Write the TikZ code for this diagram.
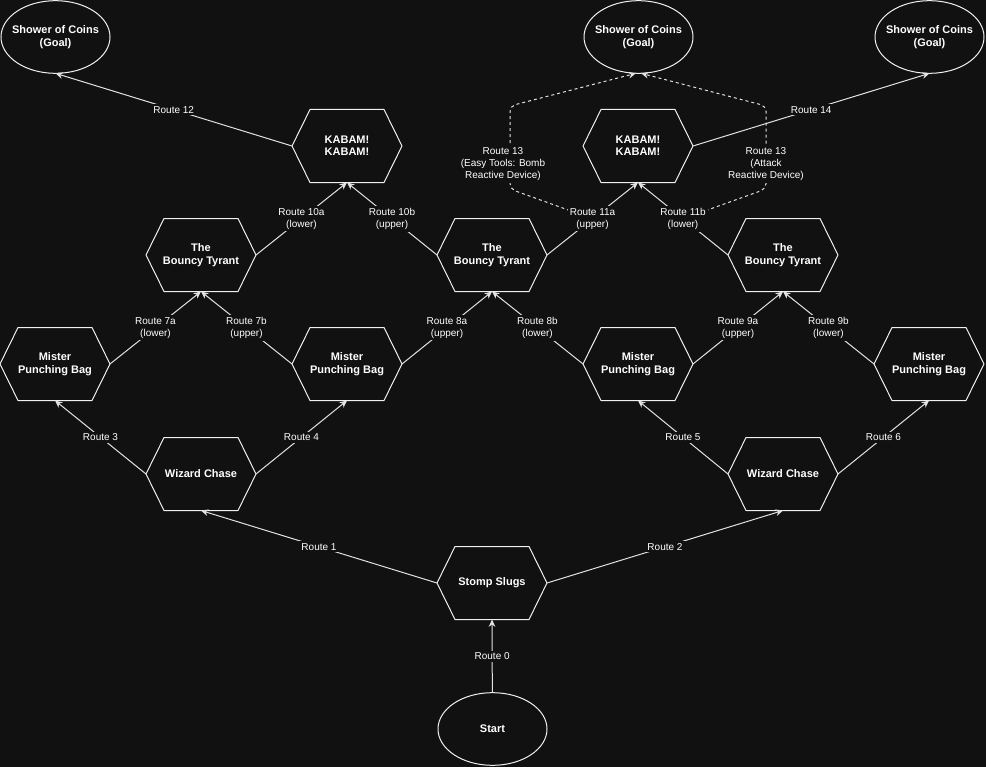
\documentclass[tikz,border=0pt]{standalone}
\usepackage{fontspec}
\setmainfont{Liberation Sans}
\usepackage{xcolor}
\usetikzlibrary{calc,shapes.geometric,arrows.meta}
\definecolor{bg}{HTML}{111111}
\definecolor{edgecol}{HTML}{E2E2E2}
\definecolor{border}{HTML}{F0F0F0}
\definecolor{text}{HTML}{FFFFFF}
\tikzset{
  hexbox/.style={minimum width=82.5pt, minimum height=54.75pt, inner sep=0pt, outer sep=0pt,
    align=center, text=text, font=\bfseries\fontsize{8.25}{9.3}\selectfont},
  hexline/.style={draw=border, line width=0.75pt, line join=round},
  oval/.style={ellipse, draw=border, line width=0.75pt, minimum width=81.75pt, minimum height=54.5pt,
    inner sep=0pt, outer sep=0pt},
  ovaltext/.style={align=center, text=text, inner sep=0pt, font=\bfseries\fontsize{8.25}{9.3}\selectfont},
  route/.style={draw=edgecol, line width=0.75pt, -{Stealth[length=5.5pt,width=5pt]}},
  secret/.style={route, dash pattern=on 2.25pt off 2.25pt, rounded corners=4pt},
  lab/.style={fill=bg, text=text, inner sep=1.5pt, align=center, font=\fontsize{7.5}{9.2}\selectfont}
}
\begin{document}
\begin{tikzpicture}[x=0.75pt, y=-0.75pt]
  \path[use as bounding box, fill=bg] (0,0) rectangle (986,767);

  % start and goals
  \node[oval, label={[ovaltext]center:Start}] (start) at (492.5,729) {};
  \node[oval, label={[ovaltext]center:Shower of Coins\\(Goal)}] (goalL) at (55.5,37) {};
  \node[oval, label={[ovaltext]center:Shower of Coins\\(Goal)}] (goalM) at (638.5,37) {};
  \node[oval, label={[ovaltext]center:Shower of Coins\\(Goal)}] (goalR) at (929.5,37) {};

  % levels
  \node[hexbox] (stomp) at (492,583) {Stomp Slugs};
  \node[hexbox] (wizL) at (201,474) {Wizard Chase};
  \node[hexbox] (wizR) at (783,474) {Wizard Chase};
  \node[hexbox] (bag1) at (55,364) {Mister\\Punching Bag};
  \node[hexbox] (bag2) at (347,364) {Mister\\Punching Bag};
  \node[hexbox] (bag3) at (638,364) {Mister\\Punching Bag};
  \node[hexbox] (bag4) at (929,364) {Mister\\Punching Bag};
  \node[hexbox] (tyr1) at (201,255) {The\\Bouncy Tyrant};
  \node[hexbox] (tyr2) at (492,255) {The\\Bouncy Tyrant};
  \node[hexbox] (tyr3) at (783,255) {The\\Bouncy Tyrant};
  \node[hexbox] (kab1) at (347,146) {KABAM!\\KABAM!};
  \node[hexbox] (kab2) at (638,146) {KABAM!\\KABAM!};

  \foreach \n in {stomp,wizL,wizR,bag1,bag2,bag3,bag4,tyr1,tyr2,tyr3,kab1,kab2}
    \draw[hexline] (\n.west) -- ([xshift=13.5pt]\n.north west) -- ([xshift=-13.5pt]\n.north east)
      -- (\n.east) -- ([xshift=-13.5pt]\n.south east) -- ([xshift=13.5pt]\n.south west) -- cycle;

  % route 13 leaves from the middle of routes 11a / 11b
  \coordinate (m11a) at ($(tyr2.east)!0.5!(kab2.south)$);
  \coordinate (m11b) at ($(tyr3.west)!0.5!(kab2.south)$);
  \draw[secret] (m11a) -- (510,189) -- (510,106) -- ([xshift=-2pt]goalM.south);
  \draw[secret] (m11b) -- (766,189) -- (766,106) -- ([xshift=2pt]goalM.south);
  \node[lab] (r13a) at (503,164) {Route 13\\(Easy Tools: Bomb\\Reactive Device)};
  \node[lab] (r13b) at (766,164) {Route 13\\(Attack\\Reactive Device)};

  \draw[route] (start) -- node[lab] {Route 0} (stomp.south);
  \draw[route] (stomp.west) -- node[lab] {Route 1} (wizL.south);
  \draw[route] (stomp.east) -- node[lab] {Route 2} (wizR.south);
  \draw[route] (wizL.west) -- node[lab] {Route 3} (bag1.south);
  \draw[route] (wizL.east) -- node[lab] {Route 4} (bag2.south);
  \draw[route] (wizR.west) -- node[lab] {Route 5} (bag3.south);
  \draw[route] (wizR.east) -- node[lab] {Route 6} (bag4.south);
  \draw[route] (bag1.east) -- node[lab] {Route 7a\\(lower)} (tyr1.south);
  \draw[route] (bag2.west) -- node[lab] {Route 7b\\(upper)} (tyr1.south);
  \draw[route] (bag2.east) -- node[lab] {Route 8a\\(upper)} (tyr2.south);
  \draw[route] (bag3.west) -- node[lab] {Route 8b\\(lower)} (tyr2.south);
  \draw[route] (bag3.east) -- node[lab] {Route 9a\\(upper)} (tyr3.south);
  \draw[route] (bag4.west) -- node[lab] {Route 9b\\(lower)} (tyr3.south);
  \draw[route] (tyr1.east) -- node[lab] {Route 10a\\(lower)} (kab1.south);
  \draw[route] (tyr2.west) -- node[lab] {Route 10b\\(upper)} (kab1.south);
  \draw[route] (tyr2.east) -- node[lab] {Route 11a\\(upper)} (kab2.south);
  \draw[route] (tyr3.west) -- node[lab] {Route 11b\\(lower)} (kab2.south);
  \draw[route] (kab1.west) -- node[lab] {Route 12} (goalL.south);
  \draw[route] (kab2.east) -- node[lab] {Route 14} (goalR.south);
\end{tikzpicture}
\end{document}
